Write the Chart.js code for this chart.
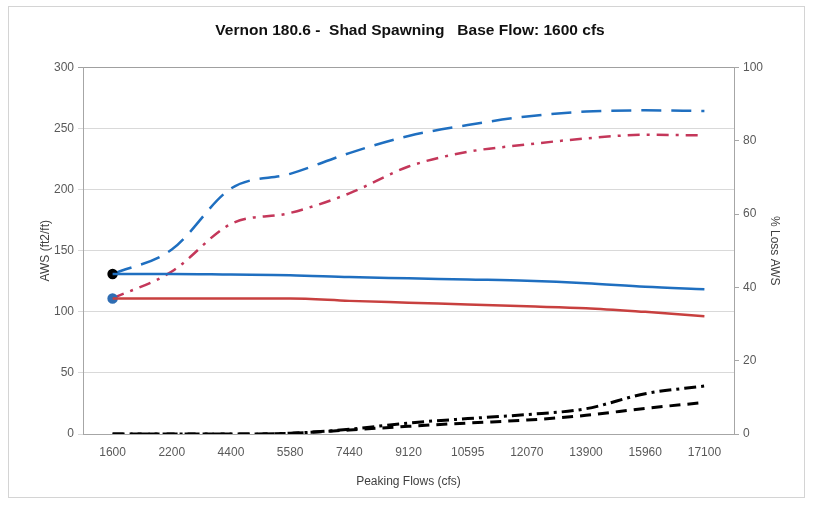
<!DOCTYPE html>
<html>
<head>
<meta charset="utf-8">
<script src="https://cdn.jsdelivr.net/npm/chart.js@4/dist/chart.umd.min.js"></script>
<style>
  html, body { margin: 0; padding: 0; background: #fff; }
  #wrap { position: relative; width: 820px; height: 505px; }
  #frame { position: absolute; left: 8px; top: 6px; width: 797px; height: 492px; border: 1px solid #d4d4d4; box-sizing: border-box; }
</style>
</head>
<body>
<div id="wrap">
  <div id="frame"></div>
  <canvas id="c" width="820" height="505"></canvas>
</div>
<script>
// x categories: peaking flows (cfs)
const flows = ['1600', '2200', '4400', '5580', '7440', '9120', '10595', '12070', '13900', '15960', '17100'];
// AWS (ft2/ft), left axis
const awsBlueSolid = [131, 131, 130.5, 130, 128.5, 127.5, 126.5, 125.5, 123.5, 120.5, 118.5];
const awsRedSolid = [111, 111, 111, 111, 109, 107.5, 106, 104.5, 103, 100, 96.5];
const awsBlueDash = [131, 151, 201, 213, 230, 244, 253, 260, 264, 265, 264.5];
const awsRedDashDot = [111, 133, 172, 181, 197, 219, 231, 237, 242, 245, 244.5];
// % loss AWS, right axis
const lossDashDot = [0, 0, 0, 0.2, 1.3, 3.0, 4.2, 5.3, 6.9, 11, 13.1];
const lossDash = [0, 0, 0, 0.2, 1.1, 2.1, 3.0, 3.8, 5.1, 7.0, 8.6];

const leftTicks = [0, 50, 100, 150, 200, 250, 300];
const rightTicks = [0, 20, 40, 60, 80, 100];

const BLUE = '#1f6fc0', RED = '#c8403f', CRIMSON = '#c4375a';
const firstDot = n => flows.map((_, i) => i === 0 ? n : 0);
const FONT = 'Liberation Sans, Arial, sans-serif';

const line = (data, color, dash, axis, w) => ({
  data, borderColor: color, borderWidth: w || 2.5, borderDash: dash || [],
  yAxisID: axis, pointRadius: 0, pointHoverRadius: 0, fill: false,
  cubicInterpolationMode: 'monotone',
});

const datasets = [
  line(awsBlueSolid, BLUE, [], 'y'),
  line(awsRedSolid, RED, [], 'y'),
  line(lossDash, '#000', [11, 7], 'y1', 3),
  line(lossDashDot, '#000', [12, 5, 3, 5], 'y1', 3),
  Object.assign(line(awsRedDashDot, CRIMSON, [12, 7, 3, 7], 'y'),
    { pointRadius: firstDot(4), pointBackgroundColor: '#2f6db3', pointBorderColor: '#2f6db3' }),
  Object.assign(line(awsBlueDash, BLUE, [20, 10], 'y'),
    { pointRadius: firstDot(4), pointBackgroundColor: '#000', pointBorderColor: '#000' }),
];

new Chart(document.getElementById('c'), {
  type: 'line',
  data: { labels: flows, datasets },
  options: {
    responsive: false, animation: false,
    layout: { padding: 0 },
    plugins: {
      legend: { display: false }, tooltip: { enabled: false },
      title: {
        display: true, text: 'Vernon 180.6 -  Shad Spawning   Base Flow: 1600 cfs',
        color: '#111', font: { family: FONT, size: 15.5, weight: 'bold' },
        padding: { top: 21, bottom: 28 },
      },
    },
    scales: {
      x: {
        offset: true,
        grid: { display: false, tickLength: 8 },
        border: { display: true, color: '#a6a6a6' },
        ticks: { color: '#595959', font: { family: FONT, size: 12 }, padding: 3, maxRotation: 0, autoSkip: false },
        title: { display: true, text: 'Peaking Flows (cfs)', color: '#404040', font: { family: FONT, size: 12 }, padding: { top: 0, bottom: 16 } },
        afterFit: s => { s.height = 71; },
      },
      y: {
        position: 'left', min: 0, max: 300,
        afterBuildTicks: s => { s.ticks = leftTicks.map(v => ({ value: v })); },
        grid: { color: c => c.tick && c.tick.value === 300 ? '#a0a0a0' : '#d9d9d9', tickLength: 5, lineWidth: 1 },
        border: { display: true, color: '#a6a6a6' },
        ticks: { color: '#595959', font: { family: FONT, size: 12 }, padding: 4 },
        title: { display: true, text: 'AWS (ft2/ft)', color: '#404040', font: { family: FONT, size: 12 }, padding: { top: 38, bottom: 0 } },
        afterFit: s => { s.width = 83; },
      },
      y1: {
        position: 'right', min: 0, max: 100,
        afterBuildTicks: s => { s.ticks = rightTicks.map(v => ({ value: v })); },
        grid: { drawOnChartArea: false, color: '#a6a6a6', tickLength: 5 },
        border: { display: true, color: '#a6a6a6' },
        ticks: { color: '#595959', font: { family: FONT, size: 12 }, padding: 4 },
        title: { display: true, text: '% Loss AWS', color: '#404040', font: { family: FONT, size: 12 }, padding: { top: 38, bottom: 0 } },
        afterFit: s => { s.width = 86; },
      },
    },
  },
});
</script>
</body>
</html>
